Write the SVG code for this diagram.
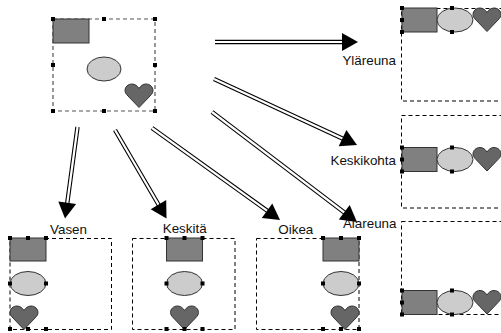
<svg xmlns="http://www.w3.org/2000/svg" xmlns:xlink="http://www.w3.org/1999/xlink" width="501" height="333" viewBox="0 0 501 333">
<style>
.box{fill:none;stroke:#000;stroke-width:1;stroke-dasharray:4 3}
.box2{fill:none;stroke:#555;stroke-width:1.2;stroke-dasharray:4 3}
.r{fill:#808080;stroke:#333;stroke-width:1}
.e{fill:#cccccc;stroke:#333;stroke-width:1}
.h{fill:#666666;stroke:#333;stroke-width:1}
.hd{fill:#000}
.lbl{font-family:"Liberation Sans",Arial,sans-serif;font-size:13.4px;fill:#111}
.so{fill:none;stroke:#000;stroke-width:4.4}
.si{fill:none;stroke:#fff;stroke-width:2.2}
</style>
<defs>
<path id="heart" d="M14,23.5 L3,12 C0.5,9.5 0,8 0,6.5 C0,3 3,0 7,0 C10,0 12.5,2 14,4.5 C15.5,2 18,0 21,0 C25,0 28,3 28,6.5 C28,8 27.5,9.5 25,12 Z"/>
<rect id="hd" x="-2" y="-2" width="4" height="4"/>
</defs>
<rect width="501" height="333" fill="#fff"/>

<g id="connectors">
<path class="so" d="M215,42 L343,42"/><path class="si" d="M215,42 L343,42"/>
<polygon class="hd" points="358,42 342,33 342,51"/>
<path class="so" d="M214,79 L343.5,139"/><path class="si" d="M214,79 L343.5,139"/>
<polygon class="hd" points="357,145 338.7,146.3 346.4,130"/>
<path class="so" d="M212,112 L345,213"/><path class="si" d="M212,112 L345,213"/>
<polygon class="hd" points="357,222 338.8,219.4 349.7,205.1"/>
<path class="so" d="M152,128 L268,211.3"/><path class="si" d="M152,128 L268,211.3"/>
<polygon class="hd" points="280,220 261.8,218 272.3,203.4"/>
<path class="so" d="M115,130 L159,205.5"/><path class="si" d="M115,130 L159,205.5"/>
<polygon class="hd" points="166.5,218.5 150.7,209.2 166.2,200.1"/>
<path class="so" d="M77.5,127 L67.2,203.5"/><path class="si" d="M77.5,127 L67.2,203.5"/>
<polygon class="hd" points="65,218.5 58.3,201.4 76.1,203.9"/>
</g>

<g id="source">
<rect class="box2" x="53" y="19" width="102" height="92"/>
<rect class="r" x="53" y="19" width="36" height="24"/>
<ellipse class="e" cx="104" cy="69" rx="17" ry="12"/>
<use href="#heart" class="h" x="125" y="84"/>
<use href="#hd" x="53" y="19"/><use href="#hd" x="104" y="19"/><use href="#hd" x="155" y="19"/>
<use href="#hd" x="53" y="65"/><use href="#hd" x="155" y="65"/>
<use href="#hd" x="53" y="111"/><use href="#hd" x="104" y="111"/><use href="#hd" x="155" y="111"/>
</g>

<g id="ylareuna">
<rect class="box" x="401.5" y="8.5" width="100" height="92.5"/>
<rect class="r" x="402" y="8" width="35" height="24"/>
<ellipse class="e" cx="455" cy="20" rx="18" ry="12"/>
<use href="#heart" class="h" x="473" y="8"/>
<use href="#hd" x="402" y="8"/><use href="#hd" x="452" y="8"/><use href="#hd" x="402" y="20"/>
<use href="#hd" x="402" y="32"/><use href="#hd" x="452" y="32"/>
<text class="lbl" x="396" y="65" text-anchor="end">Yläreuna</text>
</g>

<g id="keskikohta">
<rect class="box" x="401.5" y="115.5" width="100" height="92.5"/>
<rect class="r" x="402" y="147.5" width="35" height="24"/>
<ellipse class="e" cx="455" cy="159.5" rx="18" ry="12"/>
<use href="#heart" class="h" x="473" y="147.5"/>
<use href="#hd" x="402" y="147.5"/><use href="#hd" x="452" y="147.5"/><use href="#hd" x="402" y="159.5"/>
<use href="#hd" x="402" y="171.5"/><use href="#hd" x="452" y="171.5"/>
<text class="lbl" x="396" y="165" text-anchor="end">Keskikohta</text>
</g>

<g id="alareuna">
<rect class="box" x="401.5" y="221.5" width="100" height="93"/>
<rect class="r" x="402" y="290.5" width="35" height="24"/>
<ellipse class="e" cx="455" cy="302.5" rx="18" ry="12"/>
<use href="#heart" class="h" x="473" y="290.5"/>
<use href="#hd" x="402" y="290.5"/><use href="#hd" x="452" y="290.5"/><use href="#hd" x="402" y="302.5"/>
<use href="#hd" x="402" y="314.5"/><use href="#hd" x="452" y="314.5"/>
<text class="lbl" x="396.5" y="228" text-anchor="end">Alareuna</text>
</g>

<g id="vasen">
<rect class="box" x="10" y="238.5" width="101.5" height="91"/>
<rect class="r" x="10" y="238" width="36" height="23"/>
<ellipse class="e" cx="28" cy="283.5" rx="18" ry="12"/>
<use href="#heart" class="h" x="10" y="306"/>
<use href="#hd" x="10" y="238"/><use href="#hd" x="28" y="238"/><use href="#hd" x="46" y="238"/>
<use href="#hd" x="10" y="283.5"/><use href="#hd" x="46" y="283.5"/>
<use href="#hd" x="10" y="329"/><use href="#hd" x="28" y="329"/><use href="#hd" x="46" y="329"/>
<text class="lbl" x="50" y="233.5">Vasen</text>
</g>

<g id="keskita">
<rect class="box" x="132.5" y="238.5" width="102.5" height="91"/>
<rect class="r" x="166.5" y="238" width="36" height="23"/>
<ellipse class="e" cx="184.5" cy="283.5" rx="18" ry="12"/>
<use href="#heart" class="h" x="170.5" y="306"/>
<use href="#hd" x="166.5" y="238"/><use href="#hd" x="184.5" y="238"/><use href="#hd" x="202.5" y="238"/>
<use href="#hd" x="166.5" y="283.5"/><use href="#hd" x="202.5" y="283.5"/>
<use href="#hd" x="166.5" y="329"/><use href="#hd" x="184.5" y="329"/><use href="#hd" x="202.5" y="329"/>
<text class="lbl" x="184.7" y="232.5" text-anchor="middle">Keskitä</text>
</g>

<g id="oikea">
<rect class="box" x="256.5" y="238.5" width="102.5" height="91"/>
<rect class="r" x="323" y="238" width="36" height="23"/>
<ellipse class="e" cx="341" cy="283.5" rx="18" ry="12"/>
<use href="#heart" class="h" x="331" y="306"/>
<use href="#hd" x="323" y="238"/><use href="#hd" x="341" y="238"/><use href="#hd" x="359" y="238"/>
<use href="#hd" x="323" y="283.5"/><use href="#hd" x="359" y="283.5"/>
<use href="#hd" x="323" y="329"/><use href="#hd" x="341" y="329"/><use href="#hd" x="359" y="329"/>
<text class="lbl" x="295.8" y="233.5" text-anchor="middle">Oikea</text>
</g>
</svg>
